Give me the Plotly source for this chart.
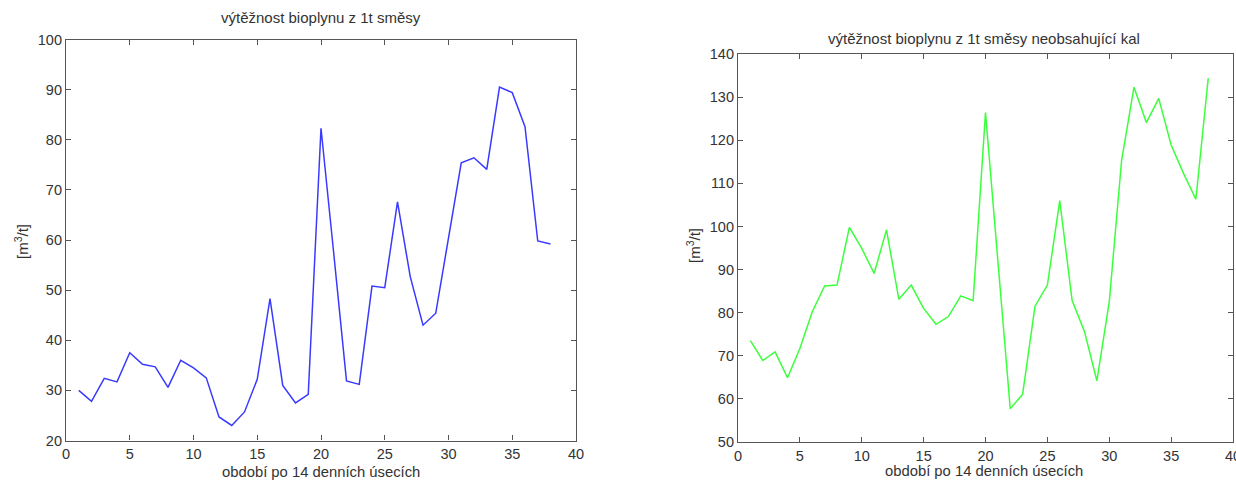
import plotly.graph_objects as go

periods = list(range(1, 39))

yield_all = [30.0, 27.8, 32.4, 31.7, 37.5, 35.2, 34.7, 30.6, 36.0, 34.5,
             32.5, 24.7, 23.0, 25.7, 32.2, 48.3, 31.0, 27.5, 29.2, 82.3,
             57.3, 31.9, 31.2, 50.8, 50.5, 67.6, 52.7, 43.0, 45.4, 60.2,
             75.4, 76.4, 74.1, 90.5, 89.4, 82.6, 59.8, 59.2]

yield_no_sludge = [73.5, 68.9, 70.9, 64.9, 71.7, 80.2, 86.2, 86.4, 99.8, 94.9,
                   89.1, 99.2, 83.1, 86.4, 81.0, 77.3, 79.1, 83.9, 82.8, 126.4,
                   92.0, 57.7, 61.1, 81.5, 86.4, 106.0, 82.8, 75.6, 64.2, 82.5,
                   115.4, 132.3, 124.1, 129.7, 118.9, 112.3, 106.3, 134.4]

title_left = "výtěžnost bioplynu z 1t směsy"
title_right = "výtěžnost bioplynu z 1t směsy neobsahující kal"
x_title = "období po 14 denních úsecích"
y_title = "[m<sup>3</sup>/t]"

W, H = 1236, 483
FONT = "Liberation Sans, Arial, sans-serif"
TXT = "#333333"
AX = "#555555"

fig = go.Figure()
fig.add_trace(go.Scatter(x=periods, y=yield_all, mode="lines",
                         line=dict(color="#3a3aff", width=1.5),
                         xaxis="x", yaxis="y", showlegend=False))
fig.add_trace(go.Scatter(x=periods, y=yield_no_sludge, mode="lines",
                         line=dict(color="#3cff3c", width=1.5),
                         xaxis="x2", yaxis="y2", showlegend=False))

def px_x(p):
    return p / W

def px_y(p):
    return 1 - p / H

axis_common = dict(showgrid=False, zeroline=False, showline=True, linecolor=AX,
                   linewidth=1.2, mirror="ticks", ticks="inside", ticklen=5,
                   tickcolor=AX, automargin=False, ticklabeloverflow="allow",
                   tickfont=dict(family=FONT, size=14.5, color=TXT))

l1, r1, t1, b1 = 66, 576, 39.5, 440.5
l2, r2, t2, b2 = 738, 1233, 54, 442

fig.update_layout(
    width=W, height=H,
    margin=dict(l=0, r=0, t=0, b=0, autoexpand=False),
    paper_bgcolor="white", plot_bgcolor="white",
    xaxis=dict(domain=[px_x(l1), px_x(r1)], range=[0, 40], dtick=5,
               anchor="y", **axis_common),
    yaxis=dict(domain=[px_y(b1), px_y(t1)], range=[20, 100], dtick=10,
               anchor="x", **axis_common),
    xaxis2=dict(domain=[px_x(l2), px_x(r2)], range=[0, 40], dtick=5,
                anchor="y2", **axis_common),
    yaxis2=dict(domain=[px_y(b2), px_y(t2)], range=[50, 140], dtick=10,
                anchor="x2", **axis_common),
)

anns = [
    dict(text=title_left, x=px_x((l1 + r1) / 2), y=px_y(18), size=15),
    dict(text=title_right, x=px_x(984), y=px_y(38), size=15),
    dict(text=x_title, x=px_x((l1 + r1) / 2), y=px_y(472), size=14.8),
    dict(text=x_title, x=px_x(984), y=px_y(471), size=14.8),
    dict(text=y_title, x=px_x(21), y=px_y(242), size=15, textangle=-90),
    dict(text=y_title, x=px_x(694), y=px_y(246), size=15, textangle=-90),
]
for a in anns:
    size = a.pop("size")
    fig.add_annotation(xref="paper", yref="paper", showarrow=False,
                       xanchor="center", yanchor="middle",
                       font=dict(family=FONT, size=size, color=TXT), **a)

fig.write_html("out.html")
